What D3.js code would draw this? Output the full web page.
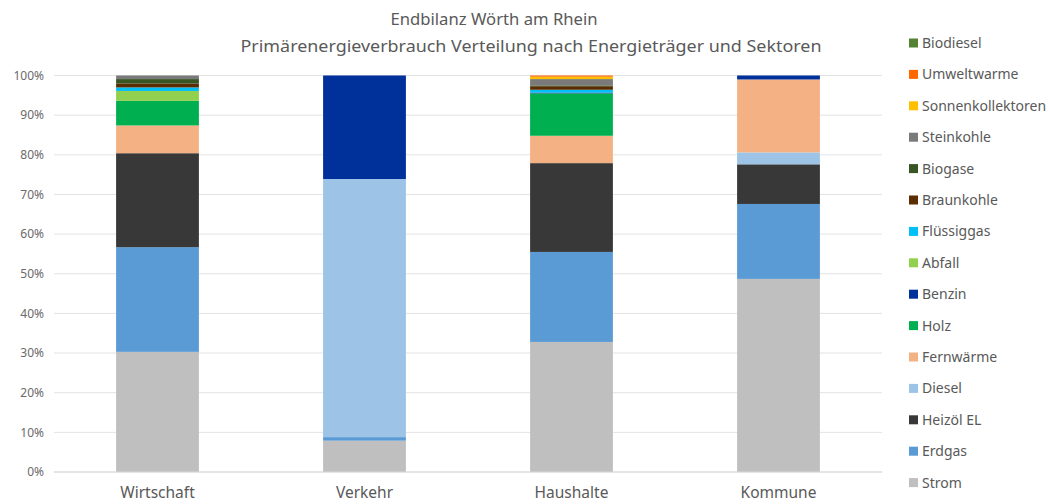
<!DOCTYPE html>
<html>
<head>
    <meta charset="utf-8">
    <title>Endbilanz Wörth am Rhein</title>
    <script src="https://cdnjs.cloudflare.com/ajax/libs/d3/7.8.5/d3.min.js"></script>
</head>
<body style="margin:0;background:#fff">
<style>
    text { font-family: "Noto Sans", "Open Sans", sans-serif; fill: #595959; }
</style>
<script>
    // sectors and carriers (stack order bottom -> top)
    const sectors = ["Wirtschaft", "Verkehr", "Haushalte", "Kommune"];
    const carriers = ["Strom", "Erdgas", "Heizöl EL", "Diesel", "Fernwärme", "Holz", "Benzin", "Abfall",
        "Flüssiggas", "Braunkohle", "Biogase", "Steinkohle", "Sonnenkollektoren", "Umweltwarme", "Biodiesel"];
    const colors = ["#bfbfbf", "#5b9bd5", "#383838", "#9dc3e6", "#f4b183", "#00b050", "#00309a", "#92d050",
        "#00c0f8", "#5a2e00", "#375623", "#7a7a7a", "#ffc000", "#ff6600", "#548235"];

    // share in % per sector (Wirtschaft, Verkehr, Haushalte, Kommune)
    const strom = [30.3, 7.9, 32.8, 48.7];
    const erdgas = [26.4, 0.9, 22.7, 18.9];
    const heizoel = [23.7, 0, 22.4, 10.0];
    const diesel = [0, 65.1, 0, 3.0];
    const fernwaerme = [7.0, 0, 6.9, 18.4];
    const holz = [6.2, 0, 10.7, 0];
    const benzin = [0, 26.1, 0.2, 1.0];
    const abfall = [2.5, 0, 0, 0];
    const fluessiggas = [0.9, 0, 0.7, 0];
    const braunkohle = [1.0, 0, 0.9, 0];
    const biogase = [1.1, 0, 0.2, 0];
    const steinkohle = [0.9, 0, 1.6, 0];
    const sonnenkollektoren = [0, 0, 0.6, 0];
    const umweltwaerme = [0, 0, 0.3, 0];
    const biodiesel = [0, 0, 0, 0];

    const series = [strom, erdgas, heizoel, diesel, fernwaerme, holz, benzin, abfall,
        fluessiggas, braunkohle, biogase, steinkohle, sonnenkollektoren, umweltwaerme, biodiesel];
    const yTicks = [0, 0.1, 0.2, 0.3, 0.4, 0.5, 0.6, 0.7, 0.8, 0.9, 1];

    const rows = sectors.map((s, i) => {
        const r = {sector: s};
        carriers.forEach((c, k) => r[c] = series[k][i]);
        return r;
    });

    const svg = d3.select("body").append("svg").attr("width", 1050).attr("height", 504);

    const x = d3.scaleBand().domain(sectors).range([54, 882]).paddingInner(0.6).paddingOuter(0.3);
    const y = d3.scaleLinear().domain([0, 1]).range([472, 75.5]);

    // gridlines
    svg.append("g").selectAll("line").data(yTicks).enter().append("line")
        .attr("x1", 54).attr("x2", 882)
        .attr("y1", d => y(d)).attr("y2", d => y(d))
        .attr("stroke", "#e3e3e3").attr("stroke-width", 1);

    // y axis labels
    svg.append("g").selectAll("text").data(yTicks).enter().append("text")
        .attr("x", 44).attr("y", d => y(d)).attr("dy", "0.35em")
        .attr("text-anchor", "end").style("font-size", "12px").style("fill", "#6a6a6a")
        .text(d => d3.format(".0%")(d));

    const stacked = d3.stack().keys(carriers).offset(d3.stackOffsetExpand)(rows);

    svg.append("g").selectAll("g").data(stacked).enter().append("g")
        .attr("fill", (d, i) => colors[i])
        .selectAll("rect").data(d => d).enter().append("rect")
        .attr("x", d => x(d.data.sector))
        .attr("width", x.bandwidth())
        .attr("y", d => y(d[1]))
        .attr("height", d => y(d[0]) - y(d[1]));

    // x axis
    svg.append("line").attr("x1", 54).attr("x2", 882).attr("y1", y(0)).attr("y2", y(0))
        .attr("stroke", "#d9d9d9");
    svg.append("g").selectAll("text").data(sectors).enter().append("text")
        .attr("x", d => x(d) + x.bandwidth() / 2).attr("y", 498)
        .attr("text-anchor", "middle").style("font-size", "15.5px")
        .text(d => d);

    // title
    svg.append("text").attr("x", 494).attr("y", 25).attr("text-anchor", "middle")
        .attr("textLength", 207).attr("lengthAdjust", "spacingAndGlyphs")
        .style("font-size", "17px").text("Endbilanz Wörth am Rhein");
    svg.append("text").attr("x", 531).attr("y", 52).attr("text-anchor", "middle")
        .attr("textLength", 581).attr("lengthAdjust", "spacingAndGlyphs")
        .style("font-size", "17px").text("Primärenergieverbrauch Verteilung nach Energieträger und Sektoren");

    // legend (reverse order)
    const legend = svg.append("g").selectAll("g").data(carriers.slice().reverse()).enter().append("g")
        .attr("transform", (d, i) => `translate(909, ${43 + i * 31.4})`);
    legend.append("rect").attr("x", 0).attr("y", -4.5).attr("width", 9).attr("height", 9)
        .attr("fill", d => colors[carriers.indexOf(d)]);
    legend.append("text").attr("x", 13).attr("dy", "0.35em").style("font-size", "14px").text(d => d);
</script>
</body>
</html>
